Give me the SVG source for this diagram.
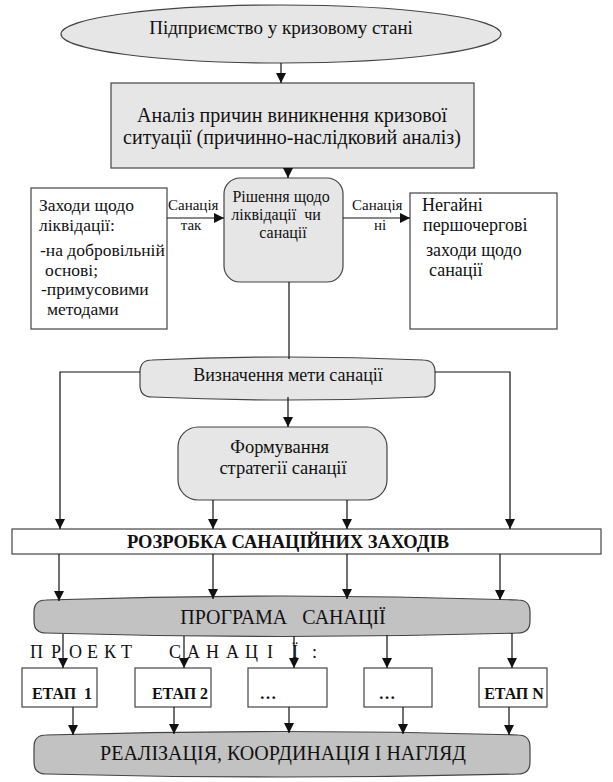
<svg xmlns="http://www.w3.org/2000/svg" width="613" height="782" viewBox="0 0 613 782">
<style>
.box{stroke:#444;stroke-width:1.2;}
.w{fill:#fff;}
.lg{fill:#e6e6e6;}
.dg{fill:#c2c2c2;}
.c{text-anchor:middle;}
.conn line,.conn polyline{stroke:#111;stroke-width:1.2;fill:none;}
</style>
<defs>
<marker id="ah" viewBox="0 0 10 10" refX="10" refY="5" markerWidth="10" markerHeight="10" markerUnits="userSpaceOnUse" orient="auto">
<path d="M0,0 L10,5 L0,10 Z" fill="#111"/>
</marker>
</defs>
<rect width="613" height="782" fill="#fff"/>
<g font-family="'Liberation Serif', 'Times New Roman', serif" fill="#111">

<g id="n-start">
<ellipse class="box lg" cx="281" cy="34" rx="220" ry="29"/>
<text class="c" x="281" y="34" font-size="19" fill="#111">Підприємство у кризовому стані</text>
</g>

<g id="n-analysis">
<rect class="box lg" x="111" y="83" width="363" height="85"/>
<text class="c" x="292" y="122" font-size="20" fill="#111">Аналіз причин виникнення кризової</text>
<text class="c" x="292" y="144" font-size="20" fill="#111">ситуації (причинно-наслідковий аналіз)</text>
</g>

<g id="n-liquid">
<rect class="box w" x="31" y="188" width="136" height="141"/>
<text font-size="17.5" fill="#111">
<tspan x="39" y="211">Заходи щодо</tspan>
<tspan x="39" y="231">ліквідації:</tspan>
<tspan x="40" y="256">-на добровільній</tspan>
<tspan x="45" y="276">основі;</tspan>
<tspan x="41" y="295">-примусовими</tspan>
<tspan x="47" y="315">методами</tspan>
</text>
</g>

<g id="n-decision">
<rect class="box lg" x="224" y="178" width="119" height="104" rx="16"/>
<text class="c" font-size="16" fill="#111">
<tspan x="283" y="202">Рішення щодо</tspan>
<tspan x="278" y="220" style="white-space:pre">ліквідації  чи</tspan>
<tspan x="283" y="238">санації</tspan>
</text>
</g>

<g id="n-urgent">
<rect class="box w" x="410" y="193" width="147" height="136"/>
<text font-size="18" fill="#111">
<tspan x="422" y="211">Негайні</tspan>
<tspan x="423" y="231">першочергові</tspan>
<tspan x="426" y="256">заходи щодо</tspan>
<tspan x="429" y="276">санації</tspan>
</text>
</g>

<g id="n-goal">
<path class="box lg" d="M152,360 Q288,354 423,360 Q435,360 435,372 L435,385 Q435,397 423,397 Q288,403 152,397 Q140,397 140,385 L140,372 Q140,360 152,360 Z"/>
<text class="c" x="288" y="381" font-size="18" fill="#111">Визначення мети санації</text>
</g>

<g id="n-strategy">
<rect class="box lg" x="178" y="427" width="209" height="73" rx="20"/>
<text class="c" font-size="18.5" fill="#111">
<tspan x="282" y="453">Формування</tspan>
<tspan x="283" y="474">стратегії санації</tspan>
</text>
</g>

<g id="n-measures">
<rect class="box w" x="12" y="529" width="589" height="25"/>
<text class="c" x="288" y="548" font-size="18.5" font-weight="bold" fill="#111">РОЗРОБКА САНАЦІЙНИХ ЗАХОДІВ</text>
</g>

<g id="n-program">
<path class="box dg" d="M46,600 Q282,592 518,600 Q530,600 530,612 L530,621 Q530,633 518,633 Q282,640 46,633 Q34,633 34,621 L34,612 Q34,600 46,600 Z"/>
<text class="c" x="283" y="624" font-size="20" fill="#111" style="white-space:pre">ПРОГРАМА   САНАЦІЇ</text>
</g>

<g id="t-project">
<text y="658" font-size="18" fill="#111" x="30 42 51 61 69 79 87 97 104 114 121 140 169 180 187 197 206 216 226 236 245 258 267 282 292 312">П Р О Е К Т С А Н А Ц І Ї:</text>
</g>

<g id="n-stage1">
<rect class="box w" x="22" y="668" width="75" height="39"/>
<text class="c" x="62" y="699" font-size="16" font-weight="bold" fill="#111" style="white-space:pre">ЕТАП  1</text>
</g>
<g id="n-stage2">
<rect class="box w" x="135" y="668" width="76" height="39"/>
<text class="c" x="180" y="699" font-size="16" font-weight="bold" fill="#111">ЕТАП 2</text>
</g>
<g id="n-stage3">
<rect class="box w" x="248" y="668" width="79" height="39"/>
<text class="c" x="268" y="699" font-size="17" font-weight="bold" fill="#111">…</text>
</g>
<g id="n-stage4">
<rect class="box w" x="364" y="668" width="68" height="39"/>
<text class="c" x="387" y="699" font-size="17" font-weight="bold" fill="#111">…</text>
</g>
<g id="n-stageN">
<rect class="box w" x="479" y="668" width="68" height="39"/>
<text class="c" x="514" y="699" font-size="16" font-weight="bold" fill="#111">ЕТАП N</text>
</g>

<g id="n-impl">
<path class="box dg" d="M46,735 Q282,728 518,735 Q530,735 530,747 L530,762 Q530,774 518,774 Q282,780 46,774 Q34,774 34,762 L34,747 Q34,735 46,735 Z"/>
<text class="c" x="283" y="760" font-size="20" fill="#111">РЕАЛІЗАЦІЯ, КООРДИНАЦІЯ І НАГЛЯД</text>
</g>

<g id="connectors" class="conn">
<line x1="281" y1="63" x2="281" y2="83" marker-end="url(#ah)"/>
<line x1="288" y1="168" x2="288" y2="178" marker-end="url(#ah)"/>
<line x1="167" y1="218" x2="224" y2="218" marker-end="url(#ah)"/>
<line x1="343" y1="218" x2="410" y2="218" marker-end="url(#ah)"/>
<line x1="289" y1="282" x2="289" y2="359"/>
<line x1="288" y1="397" x2="288" y2="427" marker-end="url(#ah)"/>
<polyline points="140,372 60,372 60,529" marker-end="url(#ah)"/>
<polyline points="435,372 510,372 510,529" marker-end="url(#ah)"/>
<line x1="213" y1="500" x2="213" y2="529" marker-end="url(#ah)"/>
<line x1="347" y1="500" x2="347" y2="529" marker-end="url(#ah)"/>
<line x1="59" y1="554" x2="59" y2="601" marker-end="url(#ah)"/>
<line x1="213" y1="554" x2="213" y2="599" marker-end="url(#ah)"/>
<line x1="347" y1="554" x2="347" y2="599" marker-end="url(#ah)"/>
<line x1="500" y1="554" x2="500" y2="600" marker-end="url(#ah)"/>
<line x1="63" y1="634" x2="63" y2="668" marker-end="url(#ah)"/>
<line x1="184" y1="636" x2="184" y2="668" marker-end="url(#ah)"/>
<line x1="294" y1="636" x2="294" y2="668" marker-end="url(#ah)"/>
<line x1="387" y1="635" x2="387" y2="668" marker-end="url(#ah)"/>
<line x1="512" y1="633" x2="512" y2="668" marker-end="url(#ah)"/>
<line x1="73" y1="707" x2="73" y2="735" marker-end="url(#ah)"/>
<line x1="174" y1="707" x2="174" y2="734" marker-end="url(#ah)"/>
<line x1="289" y1="707" x2="289" y2="733" marker-end="url(#ah)"/>
<line x1="403" y1="707" x2="403" y2="734" marker-end="url(#ah)"/>
<line x1="509" y1="707" x2="509" y2="735" marker-end="url(#ah)"/>
<text x="168" y="210" font-size="15" fill="#111" stroke="none">Санація</text>
<text class="c" x="191" y="230" font-size="15" fill="#111" stroke="none">так</text>
<text x="352" y="210" font-size="15" fill="#111" stroke="none">Санація</text>
<text class="c" x="380" y="230" font-size="15" fill="#111" stroke="none">ні</text>
</g>
</g>
</svg>
